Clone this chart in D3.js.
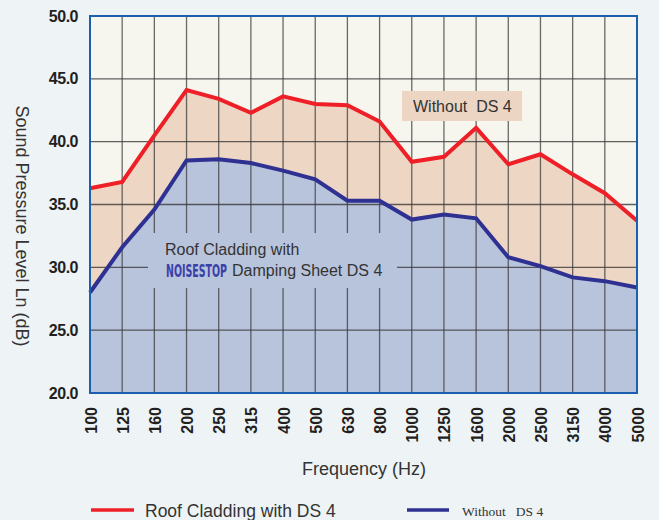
<!DOCTYPE html>
<html>
<head>
<meta charset="utf-8">
<script src="https://cdn.jsdelivr.net/npm/d3@7"></script>
<style>
  html, body { margin: 0; padding: 0; background: #eef3f6; }
  svg { display: block; }
</style>
</head>
<body>
<svg id="chart" width="659" height="520" font-family="'Liberation Sans', Arial, sans-serif"></svg>
<script>
const categories = ["100","125","160","200","250","315","400","500","630","800","1000","1250","1600","2000","2500","3150","4000","5000"];
const withoutDS4 = [36.3, 36.8, 40.5, 44.1, 43.4, 42.3, 43.6, 43.0, 42.9, 41.6, 38.4, 38.8, 41.1, 38.2, 39.0, 37.4, 35.9, 33.7];
const withDS4 = [28.0, 31.6, 34.6, 38.5, 38.6, 38.3, 37.7, 37.0, 35.3, 35.3, 33.8, 34.2, 33.9, 30.8, 30.1, 29.2, 28.9, 28.4];
const yTicks = [20, 25, 30, 35, 40, 45, 50];

const svg = d3.select("#chart");
const L = 90, R = 637, T = 16, B = 393;

const x = d3.scalePoint().domain(categories).range([L, R]).padding(0);
const y = d3.scaleLinear().domain([20, 50]).range([B, T]);

// plot background
svg.append("rect").attr("x", L).attr("y", T).attr("width", R - L).attr("height", B - T).attr("fill", "#f6f6ef");

const area = d3.area().x((d, i) => x(categories[i])).y0(y(20)).y1(d => y(d));
svg.append("path").datum(withoutDS4).attr("d", area).attr("fill", "#eed6c4");
svg.append("path").datum(withDS4).attr("d", area).attr("fill", "#b8c3dc");

// grid
const grid = svg.append("g");
grid.selectAll("line.v").data(categories.slice(1, -1)).enter().append("line")
  .attr("x1", d => x(d)).attr("x2", d => x(d)).attr("y1", T).attr("y2", B)
  .attr("stroke", "#3a3a3a").attr("stroke-opacity", 0.75).attr("stroke-width", 1.3);
grid.selectAll("line.h").data(yTicks.slice(1, -1)).enter().append("line")
  .attr("x1", L).attr("x2", R).attr("y1", d => y(d)).attr("y2", d => y(d))
  .attr("stroke", "#3a3a3a").attr("stroke-opacity", 0.8).attr("stroke-width", 1.3);

// annotation boxes covering the grid
svg.append("rect").attr("x", 148).attr("y", 233).attr("width", 249).attr("height", 55).attr("fill", "#b8c3dc");
svg.append("rect").attr("x", 402).attr("y", 91).attr("width", 120).attr("height", 30).attr("fill", "#ecd5c3");

// lines
const line = d3.line().x((d, i) => x(categories[i])).y(d => y(d));
svg.append("path").datum(withoutDS4).attr("d", line).attr("fill", "none")
  .attr("stroke", "#ee1f26").attr("stroke-width", 4).attr("stroke-linejoin", "miter");
svg.append("path").datum(withDS4).attr("d", line).attr("fill", "none")
  .attr("stroke", "#2e3192").attr("stroke-width", 4).attr("stroke-linejoin", "miter");

// frame
svg.append("rect").attr("x", L).attr("y", T).attr("width", R - L).attr("height", B - T)
  .attr("fill", "none").attr("stroke", "#1c5fae").attr("stroke-width", 2);

// y axis labels
const yAxis = d3.axisLeft(y).tickValues(yTicks).tickFormat(d3.format(".1f")).tickSize(0).tickPadding(12);
const gy = svg.append("g").attr("transform", `translate(${L},0)`).call(yAxis);
gy.attr("font-family", null).attr("font-size", null);
gy.select(".domain").remove();
gy.selectAll("text").attr("font-family", "'Liberation Sans', Arial, sans-serif")
  .attr("font-size", 16).attr("font-weight", "bold").attr("fill", "#231f20").attr("letter-spacing", "-0.5px");

// x axis labels
const xAxis = d3.axisBottom(x).tickSize(0);
const gx = svg.append("g").attr("transform", `translate(0,${B})`).call(xAxis);
gx.attr("font-family", null).attr("font-size", null);
gx.select(".domain").remove();
gx.selectAll("text")
  .attr("font-family", "'Liberation Sans', Arial, sans-serif")
  .attr("font-size", 16).attr("font-weight", "bold").attr("fill", "#231f20")
  .attr("text-anchor", "end").attr("dy", null).attr("y", null)
  .attr("transform", "translate(6,14) rotate(-90)");

// axis titles
svg.append("text").attr("transform", "translate(16,226) rotate(90)").attr("text-anchor", "middle")
  .attr("font-size", 18).attr("fill", "#333").text("Sound Pressure Level Ln (dB)");
svg.append("text").attr("x", 364).attr("y", 475).attr("text-anchor", "middle")
  .attr("font-size", 18).attr("fill", "#333").text("Frequency (Hz)");

// annotations
svg.append("text").attr("x", 165).attr("y", 255).attr("font-size", 16).attr("fill", "#333").text("Roof Cladding with");
const logo = svg.append("text").attr("font-family", "'DejaVu Sans Condensed', 'DejaVu Sans', sans-serif")
  .attr("font-size", 18).attr("font-weight", "bold").attr("fill", "#3a40a8").text("NOISESTOP");
const natural = logo.node().getComputedTextLength();
logo.attr("transform", `translate(166,277) scale(${61 / natural},1)`);
svg.append("text").attr("x", 232).attr("y", 276).attr("font-size", 16).attr("fill", "#333").text("Damping Sheet DS 4");
svg.append("text").attr("x", 413).attr("y", 112).attr("font-size", 16).attr("fill", "#333").attr("xml:space", "preserve").text("Without  DS 4");

// legend
svg.append("line").attr("x1", 91).attr("x2", 134).attr("y1", 510).attr("y2", 510).attr("stroke", "#ee1f26").attr("stroke-width", 3.5);
svg.append("text").attr("x", 145).attr("y", 517).attr("font-size", 17.5).attr("fill", "#333").text("Roof Cladding with DS 4");
svg.append("line").attr("x1", 407).attr("x2", 449).attr("y1", 510).attr("y2", 510).attr("stroke", "#2e3192").attr("stroke-width", 3.5);
svg.append("text").attr("x", 462).attr("y", 516).attr("font-family", "'Liberation Serif', 'Times New Roman', serif")
  .attr("font-size", 13.5).attr("fill", "#333").attr("xml:space", "preserve").text("Without   DS 4");
</script>
</body>
</html>
